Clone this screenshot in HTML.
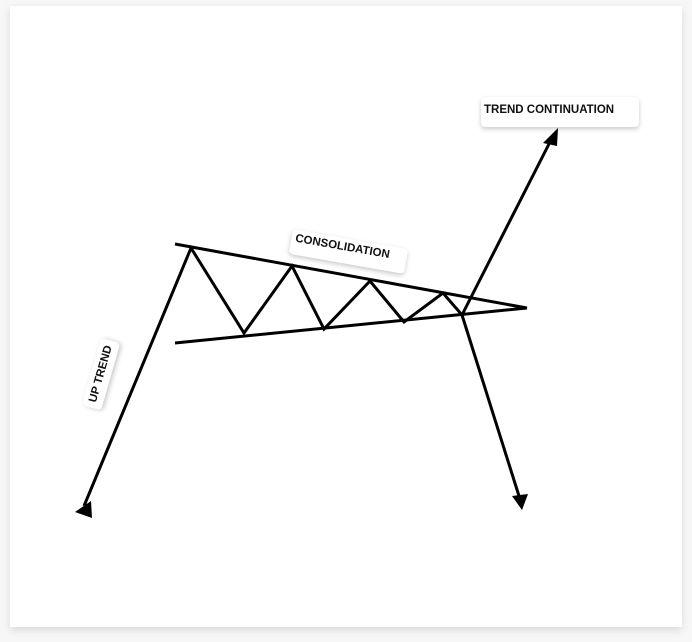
<!DOCTYPE html>
<html><head><style>
html,body{margin:0;padding:0;width:692px;height:642px;background:#f7f7f7;overflow:hidden}
.card{position:absolute;left:10px;top:6px;width:672px;height:621px;background:#fff;box-shadow:0 3px 8px rgba(0,0,0,0.12)}
.lbl{position:absolute;background:#fff;border-radius:4px;box-shadow:0 2px 5px rgba(0,0,0,0.22);font-family:"Liberation Sans",sans-serif;font-weight:bold;font-size:11.5px;color:#111;white-space:nowrap}
</style></head><body>
<div class="card"></div>
<svg width="692" height="642" style="position:absolute;left:0;top:0">
<g stroke="#000" stroke-width="3" fill="none" stroke-linejoin="miter">
<line x1="175" y1="244" x2="527" y2="308"/>
<line x1="175" y1="343" x2="527" y2="308"/>
<polyline points="84,506 191,248 244,333 292,266 324,329 370,281 404,322 443,293 462,315 551,140"/>
<line x1="462" y1="315" x2="519" y2="496"/>
</g>
<polygon points="558,128 543,143 557,146" fill="#000"/>
<polygon points="75,512 91,501 92,518" fill="#000"/>
<polygon points="522,510 512,496 528,494" fill="#000"/>
</svg>
<div class="lbl" style="left:481px;top:97px;width:158px;height:30px;line-height:26px;text-indent:3px">TREND CONTINUATION</div>
<div class="lbl" style="left:293px;top:229px;width:117px;height:25px;line-height:19px;transform:rotate(10deg);transform-origin:0 0;text-indent:4px">CONSOLIDATION</div>
<div class="lbl" style="left:66px;top:364px;width:70px;height:20px;line-height:20px;text-align:center;transform:rotate(-74deg)">UP TREND</div>
</body></html>
